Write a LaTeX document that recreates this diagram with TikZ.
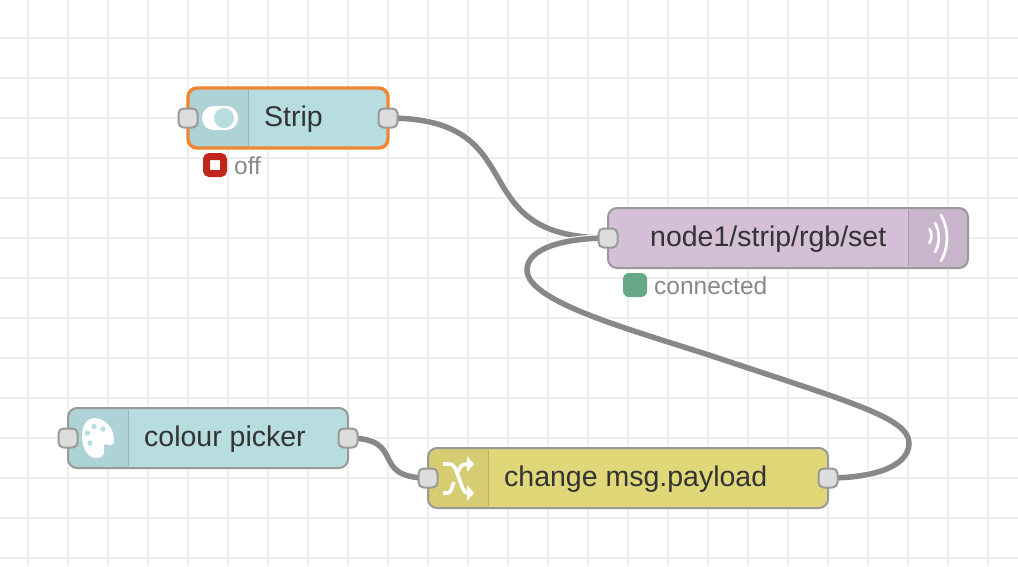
\documentclass[tikz,border=0pt]{standalone}
\usepackage{fontspec}
\setmainfont{Liberation Sans}
\pgfdeclarelayer{gridlayer}
\pgfdeclarelayer{wirelayer}
\pgfsetlayers{gridlayer,wirelayer,main}
\definecolor{gridc}{HTML}{EEEEEE}
\definecolor{wirec}{HTML}{888888}
\definecolor{edgec}{HTML}{999999}
\definecolor{portc}{HTML}{DDDDDD}
\definecolor{tealb}{HTML}{B7DDE0}
\definecolor{teali}{HTML}{AED3D6}
\definecolor{purpb}{HTML}{D4BFD7}
\definecolor{purpi}{HTML}{C9B5CB}
\definecolor{yelb}{HTML}{E0D878}
\definecolor{yeli}{HTML}{D6CD72}
\definecolor{orangec}{HTML}{F08532}
\definecolor{txtc}{HTML}{333333}
\definecolor{stxt}{HTML}{888888}
\definecolor{redc}{HTML}{C1261A}
\definecolor{greenc}{HTML}{66A888}
\tikzset{
  x=1pt,y=-1pt,
  wire/.style={draw=wirec,line width=5.5pt,preaction={draw=white,line width=7.5pt}},
  gridline/.style={draw=gridc,line width=2pt},
  bodybox/.style={rectangle,rounded corners=9pt,inner sep=0pt,outer sep=0pt},
  portbox/.style={rectangle,draw=edgec,fill=portc,line width=2pt,rounded corners=5pt,minimum width=19pt,minimum height=19pt,inner sep=0pt},
  nodelabel/.style={anchor=base west,text=txtc,font=\fontsize{28.5}{30}\selectfont,inner sep=0pt},
  statuslabel/.style={anchor=base west,text=stxt,font=\fontsize{24.5}{28}\selectfont,inner sep=0pt},
  iconline/.style={draw=white,line width=2.6pt,line cap=round,line join=round},
  shuffleline/.style={draw=white,line width=3.6pt,line join=round},
}
\newcommand{\flownode}[9]{%
  \pgfmathsetmacro{\cxx}{(#2+#4)/2}\pgfmathsetmacro{\cyy}{(#3+#5)/2}%
  \pgfmathsetmacro{\wdd}{#4-#2}\pgfmathsetmacro{\htt}{#5-#3}%
  \node[bodybox,fill=#6,minimum width=\wdd pt,minimum height=\htt pt] (#1) at (\cxx,\cyy) {};
  \begin{scope}
    \clip[rounded corners=9pt] (#2,#3) rectangle (#4,#5);
    \fill[#9] (#7,#3) rectangle (#8,#5);
  \end{scope}
}
\begin{document}
\begin{tikzpicture}
\useasboundingbox (0,0) rectangle (1018,566);
\begin{pgfonlayer}{gridlayer}
  \fill[white] (0,0) rectangle (1018,566);
  \foreach \gx in {28,68,...,1018} \draw[gridline] (\gx,0) -- (\gx,566);
  \foreach \gy in {38,78,...,566} \draw[gridline] (0,\gy) -- (1018,\gy);
\end{pgfonlayer}

% --- Strip
\flownode{strip}{188}{88}{388}{148}{tealb}{188}{248}{teali}
\draw[teali!85!black,line width=1pt] (248,90) -- (248,146);
\draw[orangec,line width=3.4pt,rounded corners=9pt] (188,88) rectangle (388,148);
\node[nodelabel] (striplabel) at (264,126) {Strip};
\fill[white,rounded corners=11.5pt] (202,106) rectangle (238,130);
\fill[tealb] (224,118) circle (10);
\node[portbox] (stripin) at (188,118) {};
\node[portbox] (stripout) at (388,118) {};
\draw[redc,line width=7pt,rounded corners=3pt,fill=white] (206.5,156.5) rectangle (223.5,173.5);
\node[statuslabel] (stripstatus) at (234,174) {off};

% --- MQTT
\flownode{mqtt}{608}{208}{968}{268}{purpb}{908}{968}{purpi}
\draw[purpi!85!black,line width=1pt] (908,210) -- (908,266);
\draw[edgec,line width=2pt,rounded corners=9pt] (608,208) rectangle (968,268);
\node[nodelabel] (mqttlabel) at (650,246) {node1/strip/rgb/set};
\draw[iconline] (929.5,229) .. controls (932,233) and (932,238) .. (929.5,243);
\draw[iconline] (935,223) .. controls (940,232) and (940,243) .. (935,252);
\draw[iconline] (941,215) .. controls (949,230) and (949,246) .. (941,261);
\node[portbox] (mqttin) at (608,238) {};
\fill[greenc,rounded corners=6pt] (623,273) rectangle (647,297);
\node[statuslabel] (mqttstatus) at (654,294) {connected};

% --- colour picker
\flownode{picker}{68}{408}{348}{468}{tealb}{68}{128}{teali}
\draw[teali!85!black,line width=1pt] (128,410) -- (128,466);
\draw[edgec,line width=2pt,rounded corners=9pt] (68,408) rectangle (348,468);
\node[nodelabel] (pickerlabel) at (144,446) {colour picker};
\fill[white] (94,418) .. controls (105,418) and (114,428) .. (114,440)
  .. controls (114,446) and (110,446) .. (107,444.5)
  .. controls (104,443.5) and (103,446) .. (104,449)
  .. controls (105,456) and (101,458) .. (96,458)
  .. controls (87,458) and (82,447) .. (82,436)
  .. controls (82,426) and (87,418) .. (94,418) -- cycle;
\foreach \dx/\dy in {94/426.5,103/429,87.5/433,90/443} \fill[tealb] (\dx,\dy) circle (2.7);
\node[portbox] (pickerin) at (68,438) {};
\node[portbox] (pickerout) at (348,438) {};

% --- change
\flownode{change}{428}{448}{828}{508}{yelb}{428}{488}{yeli}
\draw[yeli!85!black,line width=1pt] (488,450) -- (488,506);
\draw[edgec,line width=2pt,rounded corners=9pt] (428,448) rectangle (828,508);
\node[nodelabel] (changelabel) at (504,486) {change msg.payload};
\draw[shuffleline] (443,464) -- (449,464) .. controls (456,464) and (456,472) .. (459,478) .. controls (462,486) and (463,493) .. (468,493);
\draw[shuffleline] (443,493) -- (448,493) .. controls (451,493) and (452,487) .. (454,482);
\draw[shuffleline] (458,472) .. controls (460,467) and (461,464) .. (468,464);
\fill[white] (467,456) -- (474,464) -- (467,472) -- cycle;
\fill[white] (467,485) -- (474,493) -- (467,501) -- cycle;
\node[portbox] (changein) at (428,478) {};
\node[portbox] (changeout) at (828,478) {};

% --- wires
\begin{pgfonlayer}{wirelayer}
  \draw[wire] (stripout.center) .. controls (538,118) and (458,238) .. (mqttin.center);
  \draw[wire] (pickerout.center) .. controls (408,438) and (368,478) .. (changein.center);
  \coordinate (bendA) at (909,443);
  \coordinate (bendM) at (718,358);
  \coordinate (bendB) at (527,270);
  \draw[wire] (changeout.center) .. controls (870,478) and (909,468) .. (bendA)
     .. controls (909,418) and (850,402) .. (bendM)
     .. controls (640,332) and (527,303) .. (bendB)
     .. controls (527,248) and (565,238) .. (mqttin.center);
\end{pgfonlayer}
\end{tikzpicture}
\end{document}
